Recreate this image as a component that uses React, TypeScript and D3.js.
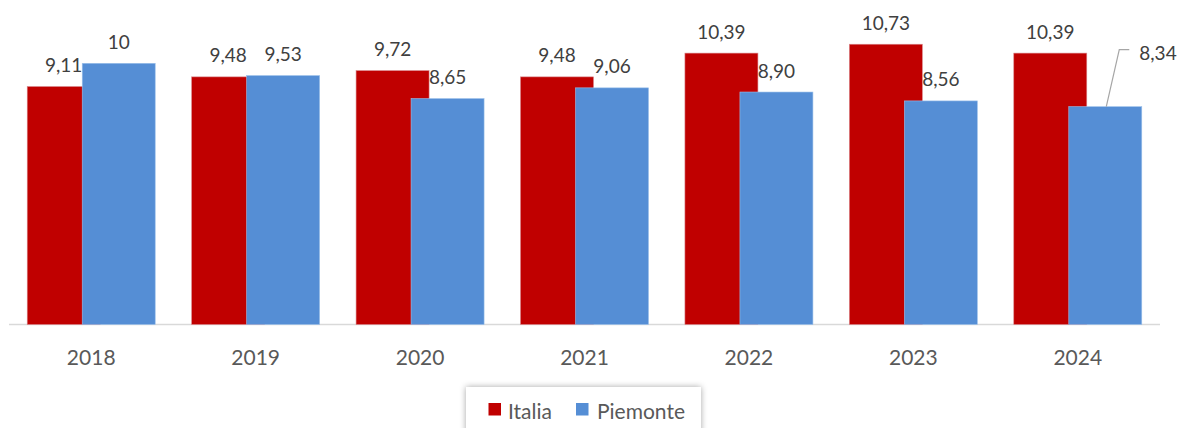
import * as d3 from "d3";
import { useEffect, useRef } from "react";

const years = ["2018", "2019", "2020", "2021", "2022", "2023", "2024"];
const italia = [9.11, 9.48, 9.72, 9.48, 10.39, 10.73, 10.39];
const piemonte = [10, 9.53, 8.65, 9.06, 8.9, 8.56, 8.34];
const seriesNames = ["Italia", "Piemonte"];
const seriesColors = ["#C00000", "#558ED5"];

const W = 1179;
const H = 428;
const FONT = "Lato, 'Open Sans', sans-serif";

const App = () => {
  const svgRef = useRef<SVGSVGElement>(null);

  useEffect(() => {
    if (!svgRef.current) return;
    const svg = d3.select(svgRef.current);
    svg.selectAll("*").remove();

    const baseY = 324.5;
    const x = d3.scaleBand().domain(years).range([9, 1160]).padding(0);
    const y = d3.scaleLinear().domain([0, 12]).range([baseY, baseY - 12 * 26.12]);

    const barW = 73;
    const shift = 55; // distance between the two bars of a group (they overlap)
    const groupW = shift + barW;
    const barX = (yr: string, s: number) =>
      x(yr)! + (x.bandwidth() - groupW) / 2 + s * shift;

    const defs = svg.append("defs");
    const f = defs.append("filter").attr("id", "shadow").attr("x", "-10%").attr("y", "-30%").attr("width", "120%").attr("height", "160%");
    f.append("feDropShadow").attr("dx", 0).attr("dy", 0).attr("stdDeviation", 3).attr("flood-color", "#000").attr("flood-opacity", 0.35);

    // baseline
    svg.append("line")
      .attr("x1", 9).attr("x2", 1160)
      .attr("y1", baseY).attr("y2", baseY)
      .attr("stroke", "#d9d9d9").attr("stroke-width", 1.3);

    const all = [italia, piemonte];
    all.forEach((vals, s) => {
      svg.append("g")
        .selectAll("rect")
        .data(vals)
        .join("rect")
        .attr("x", (_, i) => barX(years[i], s))
        .attr("y", d => y(d))
        .attr("width", barW)
        .attr("height", d => baseY - y(d))
        .attr("fill", seriesColors[s])
        .attr("stroke", s === 0 ? "#d9868a" : "#9cc0ea")
        .attr("stroke-width", 0.6);
    });

    const fmt = (v: number) => (Number.isInteger(v) ? String(v) : v.toFixed(2).replace(".", ","));

    // labels
    all.forEach((vals, s) => {
      vals.forEach((v, i) => {
        const cx = barX(years[i], s) + barW / 2;
        const top = y(v);
        const moved = s === 1 && i === years.length - 1;
        if (moved) {
          // label dragged out with a leader line
          const lx = cx + 34;
          const ly = top - 54;
          svg.append("polyline")
            .attr("points", `${cx + 1},${top} ${cx + 14},${top - 57} ${cx + 24},${top - 57}`)
            .attr("fill", "none")
            .attr("stroke", "#a6a6a6")
            .attr("stroke-width", 1.2);
          svg.append("text")
            .attr("x", lx).attr("y", ly)
            .attr("dominant-baseline", "central")
            .attr("fill", "#404040")
            .attr("font-family", FONT).attr("font-size", 19)
            .text(fmt(v));
        } else {
          svg.append("text")
            .attr("x", cx).attr("y", top - 22)
            .attr("text-anchor", "middle")
            .attr("dominant-baseline", "central")
            .attr("fill", "#404040")
            .attr("font-family", FONT).attr("font-size", 19)
            .text(fmt(v));
        }
      });
    });

    // x axis labels
    svg.append("g")
      .selectAll("text")
      .data(years)
      .join("text")
      .attr("x", d => x(d)! + x.bandwidth() / 2)
      .attr("y", 356.5)
      .attr("text-anchor", "middle")
      .attr("dominant-baseline", "central")
      .attr("fill", "#595959")
      .attr("font-family", FONT).attr("font-size", 21)
      .text(d => d);

    // legend
    const lg = svg.append("g");
    lg.append("rect")
      .attr("x", 466).attr("y", 387)
      .attr("width", 235).attr("height", 60)
      .attr("fill", "#fff")
      .attr("filter", "url(#shadow)");
    const items = [
      { sx: 488.5, tx: 508 },
      { sx: 576, tx: 597 },
    ];
    seriesNames.forEach((name, i) => {
      lg.append("rect")
        .attr("x", items[i].sx).attr("y", 403)
        .attr("width", 12.5).attr("height", 12.5)
        .attr("fill", seriesColors[i]);
      lg.append("text")
        .attr("x", items[i].tx).attr("y", 410)
        .attr("dominant-baseline", "central")
        .attr("fill", "#595959")
        .attr("font-family", FONT).attr("font-size", 21)
        .text(name);
    });
  }, []);

  return (
    <div style={{ position: "fixed", left: 0, top: 0, width: W, height: H, background: "#fff" }}>
      <svg ref={svgRef} width={W} height={H} style={{ display: "block" }} />
    </div>
  );
};

export default App;
